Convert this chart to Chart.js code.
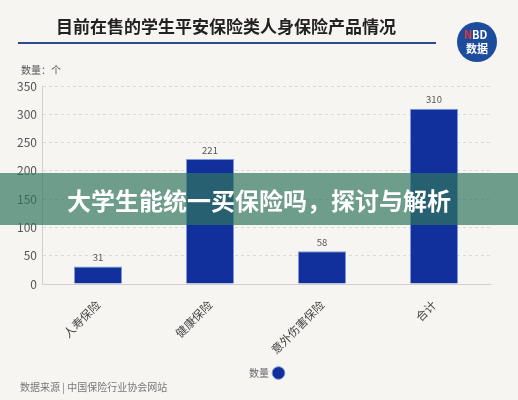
<!DOCTYPE html>
<html>
<head>
<meta charset="utf-8">
<script src="https://cdn.jsdelivr.net/npm/chart.js@4"></script>
<style>
  html, body { margin: 0; padding: 0; background: #f7f5f1; }
  #wrap { width: 518px; height: 400px; }
</style>
</head>
<body>
<div id="wrap"><canvas id="chart" width="518" height="400"></canvas></div>
<script>
// chart data
var categories = ["人寿保险", "健康保险", "意外伤害保险", "合计"];
var counts = [31, 221, 58, 310];
var seriesName = "数量";
var yTicks = [0, 50, 100, 150, 200, 250, 300, 350];

var titleText = "目前在售的学生平安保险类人身保险产品情况";
var unitText = "数量：个";
var sourceText = "数据来源 | 中国保险行业协会网站";
var bannerText = "大学生能统一买保险吗，探讨与解析";

var FONT = "'Noto Sans CJK SC', 'Noto Sans', sans-serif";

// draws title, logo, value labels, footer and the green banner
var decorPlugin = {
    id: "decor",
    beforeDraw: function (chart) {
        var ctx = chart.ctx;
        ctx.save();
        ctx.fillStyle = "#f7f5f1";
        ctx.fillRect(0, 0, chart.width, chart.height);

        // title + rule
        ctx.fillStyle = "#222";
        ctx.font = "bold 17px " + FONT;
        ctx.textAlign = "center";
        ctx.textBaseline = "middle";
        ctx.fillText(titleText, 226, 27);
        ctx.strokeStyle = "#2c4c8c";
        ctx.lineWidth = 2;
        ctx.beginPath();
        ctx.moveTo(18, 43);
        ctx.lineTo(436, 43);
        ctx.stroke();

        // logo
        ctx.fillStyle = "#1d4c9c";
        ctx.beginPath();
        ctx.arc(477, 42, 20, 0, Math.PI * 2);
        ctx.fill();
        ctx.font = "bold 11px " + FONT;
        ctx.textAlign = "left";
        ctx.fillStyle = "#e23a3a";
        ctx.fillText("N", 464, 35);
        ctx.fillStyle = "#fff";
        ctx.fillText("BD", 472, 35);
        ctx.textAlign = "center";
        ctx.fillText("数据", 477, 49);

        // unit
        ctx.fillStyle = "#555";
        ctx.font = "10px " + FONT;
        ctx.textAlign = "left";
        ctx.fillText(unitText, 21, 70);

        // source
        ctx.fillStyle = "#777";
        ctx.font = "10px " + FONT;
        ctx.fillText(sourceText, 20, 387);
        ctx.restore();
    },
    afterDatasetsDraw: function (chart) {
        var ctx = chart.ctx;
        var meta = chart.getDatasetMeta(0);
        ctx.save();
        ctx.fillStyle = "#555";
        ctx.font = "9.5px " + FONT;
        ctx.textAlign = "center";
        ctx.textBaseline = "bottom";
        meta.data.forEach(function (bar, i) {
            ctx.fillText(String(counts[i]), bar.x, bar.y - 4);
        });
        ctx.restore();
    },
    afterDraw: function (chart) {
        var ctx = chart.ctx;
        ctx.save();
        ctx.fillStyle = "rgba(49,118,93,0.69)";
        ctx.fillRect(0, 173, chart.width, 52);
        ctx.fillStyle = "#fff";
        ctx.font = "bold 24px " + FONT;
        ctx.textAlign = "center";
        ctx.textBaseline = "middle";
        ctx.fillText(bannerText, 259, 201);
        ctx.restore();
    }
};

new Chart(document.getElementById("chart"), {
    type: "bar",
    data: {
        labels: categories,
        datasets: [{
            label: seriesName,
            data: counts,
            backgroundColor: "#12309c",
            borderColor: "#7e9be0",
            borderWidth: 1,
            categoryPercentage: 0.86,
            barPercentage: 0.5
        }]
    },
    options: {
        responsive: false,
        animation: false,
        layout: { padding: { top: 86, left: 14, right: 28, bottom: 12 } },
        plugins: {
            legend: {
                position: "bottom",
                fullSize: false,
                rtl: true,
                labels: {
                    usePointStyle: true,
                    pointStyle: "circle",
                    boxWidth: 9,
                    boxHeight: 9,
                    color: "#666",
                    font: { family: FONT, size: 10 },
                    padding: 10
                }
            },
            tooltip: { enabled: false }
        },
        scales: {
            x: {
                afterFit: function (axis) { axis.height = 74; },
                grid: { display: false },
                border: { color: "#cfcfcf", width: 1 },
                ticks: {
                    minRotation: 45,
                    maxRotation: 45,
                    padding: 6,
                    color: "#444",
                    font: { family: FONT, size: 11.5 }
                }
            },
            y: {
                min: 0,
                max: 350,
                afterFit: function (axis) { axis.width = 28; },
                afterBuildTicks: function (axis) {
                    axis.ticks = yTicks.map(function (v) { return { value: v }; });
                },
                grid: { color: "#dcdad6", drawTicks: false },
                border: { color: "#cfcfcf", width: 1, dash: [3, 3] },
                ticks: {
                    color: "#555",
                    padding: 5,
                    font: { family: FONT, size: 12 }
                }
            }
        }
    },
    plugins: [decorPlugin]
});
</script>
</body>
</html>
